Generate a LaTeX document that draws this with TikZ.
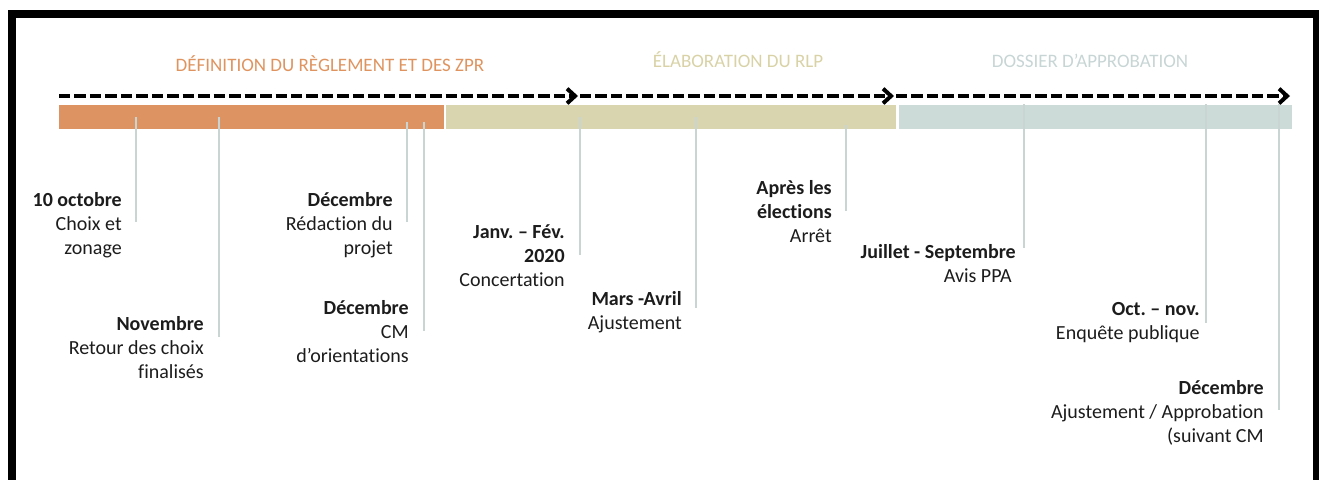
\documentclass[tikz,border=0pt]{standalone}
\usepackage{fontspec}
\setmainfont{Carlito}[Ligatures={NoCommon}]
\frenchspacing
\usetikzlibrary{arrows.meta}
\definecolor{cOrange}{HTML}{DD9462}
\definecolor{cOlive}{HTML}{D9D5AE}
\definecolor{cBlue}{HTML}{CCDAD8}
\definecolor{tOrange}{HTML}{DF945F}
\definecolor{tOlive}{HTML}{D8D2A6}
\definecolor{tBlue}{HTML}{C7D5D4}
\definecolor{tickc}{HTML}{C9D5D3}
\definecolor{txt}{HTML}{1C1C1C}
\tikzset{
  lbl/.style={anchor=north east, align=right, inner sep=0pt, text=txt,
    font=\fontsize{15pt}{18pt}\selectfont, execute at begin node=\strut},
  phase/.style={anchor=base, inner sep=0pt, font=\fontsize{14.25pt}{17pt}\selectfont},
  tickline/.style={draw=tickc, line width=1.5pt},
  flow/.style={draw=black, line width=3pt, dash pattern=on 8.6pt off 3pt,
    -{Straight Barb[length=6pt,width=11pt,line width=3pt]}},
}
\begin{document}
\begin{tikzpicture}[x=0.75pt,y=-0.75pt]
\useasboundingbox (0,0) rectangle (1319,479);
\clip (0,0) rectangle (1319,479);
% frame
\draw[line width=6pt] (12,14) rectangle (1317,560);
% phase titles
\node[phase, text=tOrange] (t1) at (330,71) {DÉFINITION DU RÈGLEMENT ET DES ZPR};
\node[phase, text=tOlive] (t2) at (738,67) {ÉLABORATION DU RLP};
\node[phase, text=tBlue] (t3) at (1090,67) {DOSSIER D’APPROBATION};
% bars
\fill[cOrange] (59,105) rectangle (444,129);
\fill[cOlive] (446,105) rectangle (896,129);
\fill[cBlue] (899,105) rectangle (1292,129);
% flow arrows
\coordinate (a0) at (59,96);
\coordinate (a1) at (578,96);
\coordinate (a2) at (580,96);
\coordinate (a3) at (894,96);
\coordinate (a4) at (896,96);
\coordinate (a5) at (1290,96);
\draw[flow] (a0) -- (a1);
\draw[flow] (a2) -- (a3);
\draw[flow] (a4) -- (a5);
% ticks
\draw[tickline] (136,117) -- (136,222);
\draw[tickline] (219,117) -- (219,337);
\draw[tickline] (407,122) -- (407,222);
\draw[tickline] (424,122) -- (424,331);
\draw[tickline] (580,117) -- (580,255);
\draw[tickline] (696,117) -- (696,308);
\draw[tickline] (846,125) -- (846,211);
\draw[tickline] (1024,104) -- (1024,248);
\draw[tickline] (1206,104) -- (1206,323);
\draw[tickline] (1279,104) -- (1279,410);
% labels
\node[lbl] (e1) at (122,192) {\textbf{10 octobre}\\Choix et\\zonage};
\node[lbl] (e2) at (204,316) {\textbf{Novembre}\\Retour des choix\\finalisés};
\node[lbl] (e3) at (393,192) {\textbf{Décembre}\\Rédaction du\\projet};
\node[lbl] (e4) at (409,300) {\textbf{Décembre}\\CM\\d’orientations};
\node[lbl] (e5) at (565,224) {\textbf{Janv. – Fév.}\\\textbf{2020}\\Concertation};
\node[lbl] (e6) at (682,291) {\textbf{Mars -Avril}\\Ajustement};
\node[lbl] (e7) at (832,180) {\textbf{Après les}\\\textbf{élections}\\Arrêt};
\node[lbl] (e8) at (1016,244) {\textbf{Juillet - Septembre}\\Avis PPA\hspace*{3pt}};
\node[lbl] (e9) at (1200,302) {\textbf{Oct. – nov.}\\Enquête publique};
\node[lbl] (e10) at (1264,380) {\textbf{Décembre}\\Ajustement / Approbation\\(suivant CM};
\end{tikzpicture}
\end{document}
